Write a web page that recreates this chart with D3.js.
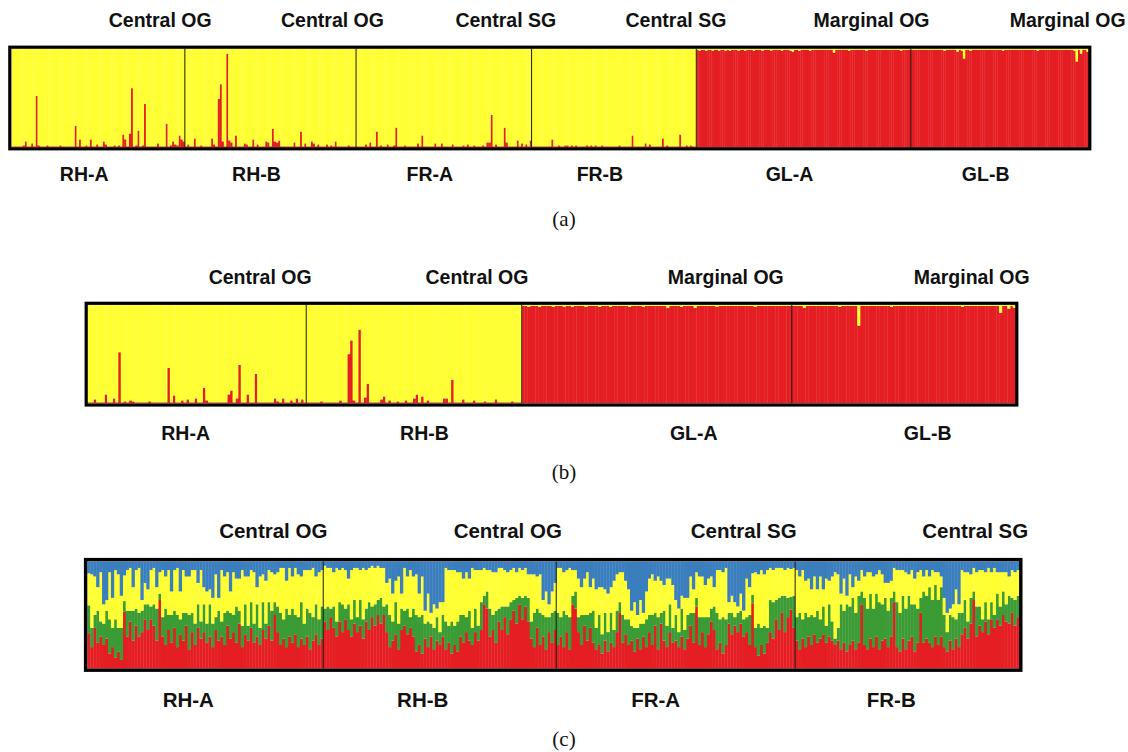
<!DOCTYPE html>
<html>
<head>
<meta charset="utf-8">
<script src="https://cdn.jsdelivr.net/npm/d3@7"></script>
<style>
body { margin: 0; background: #fff; }
text.site, text.pop { font-family: "Liberation Sans", Arial, Helvetica, sans-serif; font-weight: bold; fill: #111; }
text.caption { font-family: "Liberation Serif", "DejaVu Serif", serif; fill: #111; }
</style>
</head>
<body>
<svg id="chart" width="1128" height="752"></svg>
<script>
// ---- data: membership (%) per individual ----

// (a) K=2, red cluster share per individual
var popsA = ["RH-A", "RH-B", "FR-A", "FR-B", "GL-A", "GL-B"];
var sitesA = ["Central OG", "Central OG", "Central SG", "Central SG", "Marginal OG", "Marginal OG"];
var redA_RHA = [1,1,1,1,1,2,6,1,1,4, 1,52,2,1,1,1,2,1,1,1, 1,1,2,1,1,1,1,1,1,22, 1,8,1,1,2,1,8,1,1,3,
                1,1,6,3,1,1,1,2,1,2, 1,13,8,1,14,60,1,2,17,1, 2,44,1,1,1,1,1,4,1,1, 1,24,1,2,6,3,2,12,8,6];
var redA_RHB = [1,3,1,1,9,1,1,2,1,1, 1,1,9,3,1,49,64,6,1,95, 7,5,1,12,1,1,1,4,3,1, 1,8,1,3,1,1,1,6,5,1,
                19,6,5,7,1,1,1,1,1,1, 5,1,1,16,1,4,1,1,6,4, 1,3,1,1,1,3,1,2,1,6, 1,1,1,1,1,2,1,1,1];
var redA_FRA = [1,1,1,1,3,1,5,1,1,16, 1,2,1,1,3,1,1,2,20,1, 1,1,2,1,1,1,1,1,4,1, 12,1,1,1,1,1,4,1,1,4,
                1,1,1,1,3,1,1,1,1,2, 1,3,1,1,2,1,1,1,2,1, 5,5,33,1,3,1,1,1,20,5, 1,1,1,1,7,1,4,1,3,1, 7];
var redA_FRB = [1,1,1,1,1,1,1,1,1,8, 1,1,2,1,1,2,2,1,2,1, 2,1,1,1,1,2,1,2,1,2, 1,1,2,1,1,1,1,1,1,1,
                2,1,1,1,1,1,12,1,1,1, 1,1,4,1,3,1,1,1,1,1, 9,1,2,1,1,1,1,1,13,1, 1,2,1,2,1,1];
var redA_GLA = [99,98,99,99,98,99,99,98,99,99, 98,99,99,98,99,98,99,99,99,98, 99,99,98,99,99,99,98,99,99,99,
                98,99,99,99,98,99,99,99,99,98, 99,99,99,98,97,99,99,98,99,99, 99,99,98,99,99,99,99,99,99,99,
                99,99,99,96,99,99,99,99,99,99, 98,99,99,99,99,99,99,99,98,99, 99,99,99,99,99,99,99,99,99,99,
                99,99,99,99,98,99,99,99,99];
var redA_GLB = [99,99,99,99,99,99,99,99,99,99, 99,99,99,99,99,98,99,99,99,99, 99,97,99,98,90,99,99,98,99,99,
                99,99,99,99,99,99,99,99,99,99, 99,99,98,99,99,99,99,99,99,99, 99,99,99,99,99,99,99,99,98,99,
                99,99,99,99,99,99,99,99,99,99, 99,99,99,99,99,98,87,99,95,99, 99,97];

// (b) K=2, red cluster share per individual
var popsB = ["RH-A", "RH-B", "GL-A", "GL-B"];
var sitesB = ["Central OG", "Central OG", "Marginal OG", "Marginal OG"];
var redB_RHA = [1,1,4,1,1,1,9,1,1,5, 1,52,1,2,1,3,2,1,1,1, 1,1,2,1,1,1,1,1,1,36, 1,8,1,1,3,1,4,1,1,5,
                1,1,16,3,1,1,1,1,1,1, 1,9,13,1,5,39,1,1,9,1, 1,30,1,1,1,1,1,1,5,2, 1,5,1,1,3,1,5,1,4,1];
var redB_RHB = [1,1,1,1,1,2,1,1,1,1, 1,1,3,1,1,50,64,3,1,75, 1,6,20,1,1,1,1,4,7,1, 3,1,1,2,1,1,3,1,1,5,
                9,1,7,1,3,1,1,1,1,1, 5,5,1,24,1,1,1,4,1,1, 1,3,1,1,1,2,1,1,1,4, 1,1,1,1,1,2,1,1,1];
var redB_GLA = [99,99,98,99,99,99,98,99,99,99, 99,98,99,99,99,98,99,99,98,99, 99,99,99,98,99,99,99,99,98,99,
                99,99,98,99,99,99,99,99,99,98, 99,99,99,99,98,99,99,99,99,99, 99,99,99,97,99,99,99,99,98,99,
                99,99,99,97,99,99,99,99,99,99, 99,98,99,99,99,99,99,99,99,99, 99,99,99,99,99,98,99,99,99,99,
                99,99,99,99,99,99,99,99,99];
var redB_GLB = [99,99,99,99,97,99,99,99,99,99, 99,99,99,99,99,99,99,98,99,99, 99,99,99,99,79,99,99,99,99,99,
                99,99,99,99,99,99,98,99,99,99, 99,99,99,99,99,99,99,99,99,99, 99,99,99,99,99,99,99,99,99,99,
                99,99,98,99,99,99,99,99,99,99, 99,99,99,99,99,99,92,99,99,96, 99,97];

// (c) K=4, [red, green, yellow] per individual; blue is the rest
var popsC = ["RH-A", "RH-B", "FR-A", "FR-B"];
var sitesC = ["Central OG", "Central OG", "Central SG", "Central SG"];
var qC_RHA = [[33,26,30],[20,18,50],[38,12,36],[24,30,22],[30,14,46],[22,20,18],[28,26,10],[14,32,44],[20,18,28],[10,36,46],
  [16,22,50],[8,30,30],[53,10,24],[30,24,38],[44,10,40],[26,28,22],[40,16,36],[30,22,42],[34,20,10],[46,14,20],
  [36,24,14],[46,12,34],[40,20,34],[26,30,20],[64,6,20],[30,18,44],[22,34,30],[36,14,42],[24,26,22],[38,16,38],
  [20,30,44],[32,14,26],[26,26,40],[40,12,34],[18,32,36],[34,18,40],[22,20,50],[38,22,20],[28,16,48],[34,26,16],
  [24,18,30],[30,30,14],[20,22,24],[36,12,40],[26,28,12],[30,14,48],[22,30,34],[40,14,36],[28,24,20],[34,16,40],
  [24,34,26],[42,12,30],[20,20,52],[32,28,26],[26,14,46],[38,24,30],[24,18,48],[30,30,16],[22,16,48],[36,26,26],
  [28,14,40],[40,22,30],[26,28,36],[50,12,26],[34,24,32],[22,30,42],[28,18,48],[20,36,26],[30,20,44],[24,32,30],
  [32,18,44],[20,28,40],[28,34,24],[22,20,50],[30,26,36],[18,34,40],[26,22,46],[32,28,26],[22,24,44],[28,30,34]];
var qC_RHB = [[44,12,40],[36,22,36],[48,8,38],[38,20,32],[30,14,50],[44,18,30],[34,26,34],[46,10,36],[36,24,24],[30,16,46],
  [42,22,30],[34,14,46],[40,24,28],[28,18,48],[44,12,36],[36,26,32],[48,10,38],[40,20,34],[50,14,32],[42,24,28],
  [50,8,36],[34,26,20],[20,30,34],[26,18,26],[32,30,20],[18,24,44],[36,20,14],[40,14,40],[32,24,30],[38,10,44],
  [30,26,30],[16,34,38],[22,26,22],[14,36,36],[28,14,12],[20,24,26],[30,12,10],[18,20,22],[26,22,8],[22,12,28],
  [30,20,12],[18,26,50],[24,16,52],[14,30,48],[22,18,52],[16,28,46],[30,20,40],[24,26,34],[34,14,42],[26,28,30],
  [22,16,56],[34,22,36],[26,14,52],[36,26,30],[60,8,26],[56,16,20],[30,26,36],[36,14,40],[24,30,36],[44,12,38],
  [36,22,36],[48,10,34],[32,26,32],[46,16,30],[54,10,30],[42,24,24],[60,8,26],[46,20,26],[58,10,26],[44,22,22],
  [28,16,44],[20,32,36],[38,18,30],[22,30,36],[30,20,14],[18,30,24],[34,14,12],[24,28,20],[36,18,26]];
var qC_FRA = [[22,30,42],[30,18,46],[20,34,36],[34,16,42],[18,30,46],[60,8,24],[56,16,20],[34,14,36],[22,28,26],[40,10,34],
  [26,24,40],[38,14,24],[24,30,30],[18,20,36],[22,28,26],[14,18,44],[26,26,22],[16,18,36],[24,28,24],[20,16,46],
  [34,20,34],[52,10,28],[24,26,40],[32,14,36],[22,24,28],[26,14,14],[16,22,24],[28,10,12],[18,24,22],[30,12,10],
  [20,26,26],[34,16,34],[22,28,38],[40,12,30],[18,30,38],[42,10,30],[26,28,24],[20,20,44],[34,26,24],[24,14,40],
  [26,24,14],[20,14,22],[30,26,12],[18,18,30],[28,22,16],[40,12,34],[24,28,22],[58,8,24],[22,26,38],[34,14,38],
  [20,28,30],[32,16,36],[44,12,30],[36,22,18],[18,34,40],[24,22,46],[14,34,42],[22,24,48],[42,10,10],[32,20,16],
  [40,8,14],[34,18,6],[42,12,16],[30,16,8],[34,14,36],[22,28,26],[61,8,20],[20,18,52],[12,30,46],[22,16,54],
  [14,26,48],[24,14,54],[34,30,30],[28,34,30],[46,18,30],[36,30,28],[52,16,26],[34,34,24],[48,18,28],[55,12,26],
  [38,30,26]];
var qC_FRB = [[26,22,44],[18,34,34],[28,18,46],[20,32,30],[30,18,36],[22,28,24],[32,16,38],[24,30,20],[28,18,40],[32,26,16],
  [24,16,44],[30,30,22],[26,18,42],[22,6,62],[26,12,50],[18,42,10],[24,30,30],[16,44,8],[22,36,30],[26,40,10],
  [18,34,34],[24,44,14],[60,12,20],[22,44,20],[18,38,34],[28,42,20],[20,36,30],[30,40,18],[18,44,30],[26,34,28],
  [28,38,14],[20,34,26],[30,36,16],[62,10,22],[20,42,30],[16,36,40],[28,40,24],[18,38,34],[26,42,20],[30,30,32],
  [16,44,24],[24,32,34],[52,14,26],[24,48,14],[28,40,24],[24,52,10],[20,44,28],[30,48,12],[22,42,26],[30,46,10],
  [20,30,16],[16,18,18],[26,24,6],[18,30,12],[28,18,28],[20,32,8],[32,20,40],[38,26,26],[28,16,46],[42,24,22],
  [64,8,22],[30,28,32],[40,18,34],[34,12,46],[44,18,28],[32,14,48],[46,16,28],[38,12,44],[46,24,20],[40,18,32],
  [50,22,18],[44,16,30],[42,26,18],[52,14,26],[40,24,26],[48,20,24]];

// ---- colours ----
var clusterColors = { red: "#e41e22", green: "#3b9b34", yellow: "#ffff33", blue: "#3a7ebd" };

var svg = d3.select("#chart");

// turn group lists into one row per individual
function rowsK2(groupVals) {
    var rows = [];
    groupVals.forEach(function (vals, g) {
        vals.forEach(function (v) {
            rows.push({ group: g, red: v / 100, yellow: 1 - v / 100 });
        });
    });
    return rows;
}

function rowsK4(groupVals) {
    var rows = [];
    groupVals.forEach(function (vals, g) {
        vals.forEach(function (q) {
            rows.push({ group: g, red: q[0] / 100, green: q[1] / 100, yellow: q[2] / 100,
                        blue: 1 - (q[0] + q[1] + q[2]) / 100 });
        });
    });
    return rows;
}

function drawPanel(cfg) {
    var rows = cfg.rows;
    var g = svg.append("g").attr("class", "panel-" + cfg.id);

    var x = d3.scaleBand()
        .domain(d3.range(rows.length))
        .range([cfg.left, cfg.right])
        .paddingInner(0).paddingOuter(0);
    var y = d3.scaleLinear().domain([0, 1]).range([cfg.bottom, cfg.top]);

    var series = d3.stack().keys(cfg.keys)(rows);

    // bars overlap a hair so the seams stay faint
    g.selectAll("g.layer")
        .data(series)
        .enter()
      .append("g")
        .attr("class", "layer")
        .attr("fill", function (d) { return clusterColors[d.key]; })
      .selectAll("rect")
        .data(function (d) { return d; })
        .enter()
      .append("rect")
        .attr("x", function (d, i) { return x(i); })
        .attr("width", x.bandwidth() + 0.35)
        .attr("y", function (d) { return y(d[1]); })
        .attr("height", function (d) { return Math.max(0, y(d[0]) - y(d[1])); });

    // group start / end positions
    var starts = [], ends = [], idx = 0;
    cfg.groups.forEach(function (vals) {
        starts.push(x(idx));
        idx += vals.length;
        ends.push(idx < rows.length ? x(idx) : cfg.right);
    });

    // dividers between populations
    g.selectAll("line.divider")
        .data(starts.slice(1))
        .enter()
      .append("line")
        .attr("class", "divider")
        .attr("x1", function (d) { return d; })
        .attr("x2", function (d) { return d; })
        .attr("y1", cfg.top)
        .attr("y2", cfg.bottom)
        .style("stroke", "#1a1a1a")
        .style("stroke-width", 1);

    // frame
    g.append("rect")
        .attr("x", cfg.frame[0])
        .attr("y", cfg.frame[1])
        .attr("width", cfg.frame[2] - cfg.frame[0])
        .attr("height", cfg.frame[3] - cfg.frame[1])
        .style("fill", "none")
        .style("stroke", "#000")
        .style("stroke-width", cfg.frameWidth);

    // site labels above, population labels below
    g.selectAll("text.site")
        .data(cfg.sites)
        .enter()
      .append("text")
        .attr("class", "site")
        .attr("x", function (d, i) { return (starts[i] + ends[i]) / 2 + cfg.siteDx[i]; })
        .attr("y", cfg.siteY)
        .attr("text-anchor", "middle")
        .attr("font-size", cfg.fontSize)
        .text(function (d) { return d; });

    g.selectAll("text.pop")
        .data(cfg.pops)
        .enter()
      .append("text")
        .attr("class", "pop")
        .attr("x", function (d, i) { return (starts[i] + ends[i]) / 2 + cfg.popDx[i]; })
        .attr("y", cfg.popY)
        .attr("text-anchor", "middle")
        .attr("font-size", cfg.fontSize)
        .text(function (d) { return d; });

    svg.append("text")
        .attr("class", "caption")
        .attr("x", 564)
        .attr("y", cfg.captionY)
        .attr("text-anchor", "middle")
        .attr("font-size", 21)
        .text("(" + cfg.id + ")");
}

var groupsA = [redA_RHA, redA_RHB, redA_FRA, redA_FRB, redA_GLA, redA_GLB];
var groupsB = [redB_RHA, redB_RHB, redB_GLA, redB_GLB];
var groupsC = [qC_RHA, qC_RHB, qC_FRA, qC_FRB];

drawPanel({
    id: "a", groups: groupsA, rows: rowsK2(groupsA), keys: ["red", "yellow"],
    left: 11.5, right: 1088.5, top: 48.7, bottom: 147.3,
    frame: [9.8, 47.2, 1089.8, 148.8], frameWidth: 3.2,
    sites: sitesA, pops: popsA, fontSize: 19.5,
    siteDx: [62, 62, 62, 62, 68, 68], popDx: [-14, -14, -14, -14, -14, -14],
    siteY: 27, popY: 181, captionY: 226
});

drawPanel({
    id: "b", groups: groupsB, rows: rowsK2(groupsB), keys: ["red", "yellow"],
    left: 88, right: 1015.5, top: 305, bottom: 403.3,
    frame: [86.2, 303.3, 1016.8, 405], frameWidth: 3.2,
    sites: sitesB, pops: popsB, fontSize: 19.5,
    siteDx: [63, 63, 69, 68], popDx: [-11.5, 10.5, 37, 24],
    siteY: 284, popY: 440, captionY: 479
});

drawPanel({
    id: "c", groups: groupsC, rows: rowsK4(groupsC), keys: ["red", "green", "yellow", "blue"],
    left: 87.3, right: 1019.3, top: 561.5, bottom: 668.5,
    frame: [85.6, 559.6, 1020.8, 670.2], frameWidth: 3.4,
    sites: sitesC, pops: popsC, fontSize: 20.5,
    siteDx: [68, 68, 68, 68], popDx: [-17, -17, -20, -16],
    siteY: 538, popY: 707, captionY: 746
});
</script>
</body>
</html>
